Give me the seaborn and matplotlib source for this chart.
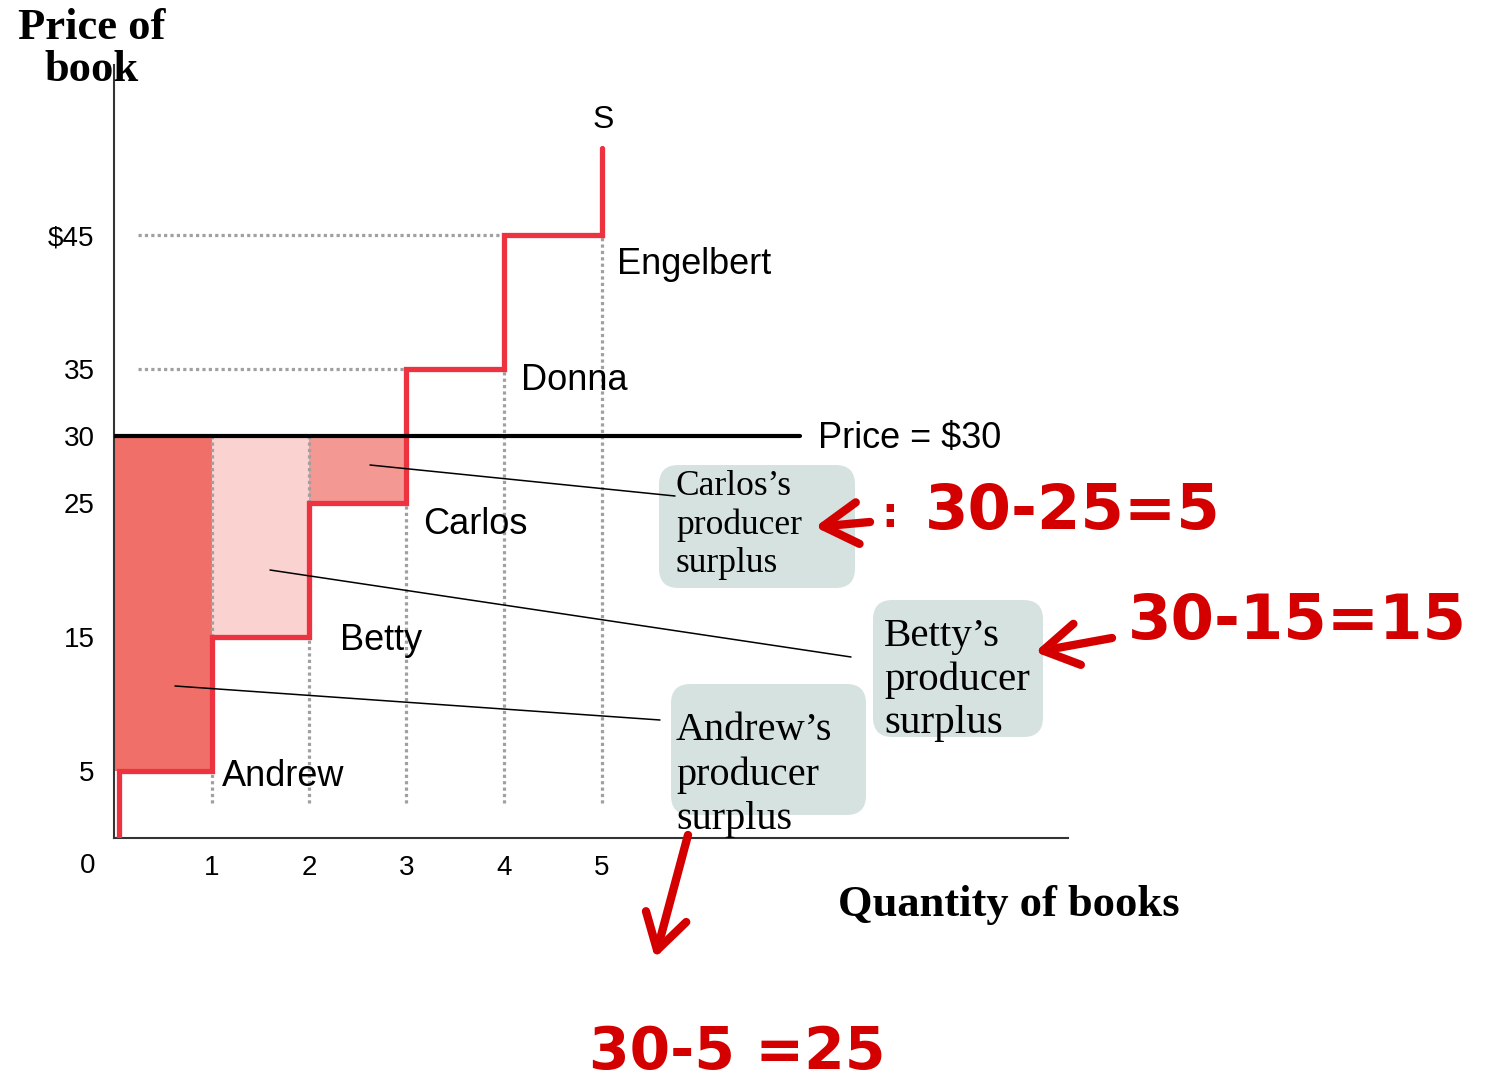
import numpy as np
import pandas as pd
import matplotlib
matplotlib.use('Agg')
import matplotlib.pyplot as plt
import seaborn as sns
from matplotlib.patches import FancyBboxPatch

# ---- data ----
sellers = ['Andrew', 'Betty', 'Carlos', 'Donna', 'Engelbert']
costs = [5, 15, 25, 35, 45]
quantity_ticks = [1, 2, 3, 4, 5]
price_ticks = [5, 15, 25, 30, 35, 45]
price_tick_labels = ['5', '15', '25', '30', '35', '$45']
market_price = 30
supply_top = 51.5
supply_start = 0.05
surplus_colors = ['#f07069', '#fad2d0', '#f49894']
surplus_labels = ["Andrew\u2019s\nproducer\nsurplus", "Betty\u2019s\nproducer\nsurplus",
                  "Carlos\u2019s\nproducer\nsurplus"]
calc_texts = ['30-5 =25', '30-15=15', '30-25=5']

sns.set_theme(style='white')
plt.rcParams['font.family'] = ['Liberation Sans', 'DejaVu Sans']
plt.rcParams['text.color'] = 'black'
plt.rcParams['axes.labelcolor'] = 'black'
plt.rcParams['xtick.color'] = 'black'
plt.rcParams['ytick.color'] = 'black'

W, H = 1490, 1087
fig = plt.figure(figsize=(W / 100, H / 100), dpi=100)
X0, Y0 = 114, 838
UX, UY = 97.5, 13.4
ax = fig.add_axes([X0 / W, (H - Y0) / H, (1068 - X0) / W, (Y0 - 65) / H])
ax.set_xlim(0, (1068 - X0) / UX)
ax.set_ylim(0, (Y0 - 65) / UY)
ax.set_facecolor('white')

def px(x, y):
    return (x - X0) / UX, (Y0 - y) / UY

# surplus fills
for i in range(3):
    ax.fill_between([i, i + 1], costs[i], market_price, color=surplus_colors[i],
                    lw=0, zorder=1)

# dotted guides
ax.vlines(quantity_ticks, 2.6, np.maximum(costs, market_price), colors='#a0a0a0',
          linestyles=(0, (1, 1)), lw=2.3, zorder=2)
for i, c in enumerate(costs):
    if c > market_price:
        ax.hlines(c, 0.25, i, colors='#a0a0a0', linestyles=(0, (1, 1)), lw=2.3, zorder=2)

# supply step
step_x = [supply_start]
step_y = [0]
for i, c in enumerate(costs):
    step_x += [supply_start if i == 0 else i, i + 1]
    step_y += [c, c]
step_x.append(len(costs))
step_y.append(supply_top)
df = pd.DataFrame({'q': step_x, 'p': step_y})
sns.lineplot(data=df, x='q', y='p', sort=False, estimator=None, color='#ee3340',
             lw=3.8, ax=ax, zorder=3)
for l in ax.lines:
    l.set_solid_joinstyle('miter')

# price line
ax.plot([0, 7.04], [market_price, market_price], color='black', lw=3, zorder=4)

# spines & ticks
sns.despine(ax=ax)
for s in ['left', 'bottom']:
    ax.spines[s].set_color('#333333')
    ax.spines[s].set_linewidth(1.5)
ax.set_xticks(quantity_ticks)
ax.set_xticklabels([str(q) for q in quantity_ticks])
ax.set_yticks(price_ticks)
ax.set_yticklabels(price_tick_labels)
ax.tick_params(axis='both', direction='in', length=16.5, width=1.5, color='black',
               labelsize=20, labelcolor='black')
ax.tick_params(axis='y', pad=14)
ax.tick_params(axis='x', pad=12)
ax.set_xlabel('')
ax.set_ylabel('')
ax.grid(False)
ax.text(*px(88, 866), '0', fontsize=20, ha='center', va='center', clip_on=False)

# seller labels
lab_pos = [(222, 777), (340, 640), (423, 524), (521, 381), (617, 264)]
for name, (lx, ly) in zip(sellers, lab_pos):
    ax.text(*px(lx, ly), name, fontsize=26, ha='left', va='center', zorder=6)
ax.text(*px(603, 120), 'S', fontsize=23, ha='center', va='center')
ax.text(*px(818, 438), 'Price = $30', fontsize=26, ha='left', va='center', clip_on=False)

# boxes
box_px = [(671, 684, 866, 815), (873, 600, 1043, 737), (659, 465, 855, 588)]
for (bx0, by0, bx1, by1) in box_px:
    x0, y1 = px(bx0, by0)
    x1, y0 = px(bx1, by1)
    p = FancyBboxPatch((x0, y0), x1 - x0, y1 - y0,
                       boxstyle='round,pad=0,rounding_size=0.2',
                       mutation_aspect=UX / UY, fc='#d6e2df', ec='none',
                       zorder=5, clip_on=False)
    ax.add_patch(p)

text_pos = [(676, 775, 29, 1.24), (884, 680, 29.5, 1.22), (676, 525, 25.5, 1.22)]
for lbl, (tx, ty, fs, ls) in zip(surplus_labels, text_pos):
    ax.text(*px(tx, ty), lbl, fontsize=fs, family='Liberation Serif', ha='left',
            va='center', linespacing=ls, zorder=6, clip_on=False)

# leader lines
leaders = [((175, 686), (660, 720)), ((270, 570), (851, 657)), ((370, 465), (675, 496))]
for (a, b) in leaders:
    xa, ya = px(*a)
    xb, yb = px(*b)
    ax.plot([xa, xb], [ya, yb], color='black', lw=1.1, zorder=6, clip_on=False)

# axis titles
fig.text(92 / W, 1 - 49 / H, 'Price of\nbook', fontsize=32, fontweight='bold',
         family='Liberation Serif', ha='center', va='center', linespacing=1.08)
fig.text(1009 / W, 1 - 905 / H, 'Quantity of books', fontsize=32, fontweight='bold',
         family='Liberation Serif', ha='center', va='center')

# handwritten annotations
red = '#d40000'
calc_pos = [(737, 1052, 42), (1297, 622, 45), (1073, 512, 45)]
for t, (cx, cy, fs) in zip(calc_texts, calc_pos):
    fig.text(cx / W, 1 - cy / H, t, fontsize=fs, fontweight='bold', family='DejaVu Sans',
             color=red, ha='center', va='center')

arrows = [((688, 835), (655, 958)), ((1112, 638), (1035, 652)), ((870, 522), (815, 527))]
for tail, tip in arrows:
    ax.annotate('', xy=(tip[0], H - tip[1]), xytext=(tail[0], H - tail[1]),
                xycoords='figure pixels', textcoords='figure pixels',
                arrowprops=dict(arrowstyle='->,head_length=1.0,head_width=0.6',
                                lw=6, color=red, capstyle='round', mutation_scale=25,
                                shrinkA=0, shrinkB=0),
                annotation_clip=False, zorder=7)
fig.text(890 / W, 1 - 515 / H, ':', fontsize=30, fontweight='bold', color=red,
         family='DejaVu Sans', ha='center', va='center')

fig.savefig('out.png', dpi=100)
